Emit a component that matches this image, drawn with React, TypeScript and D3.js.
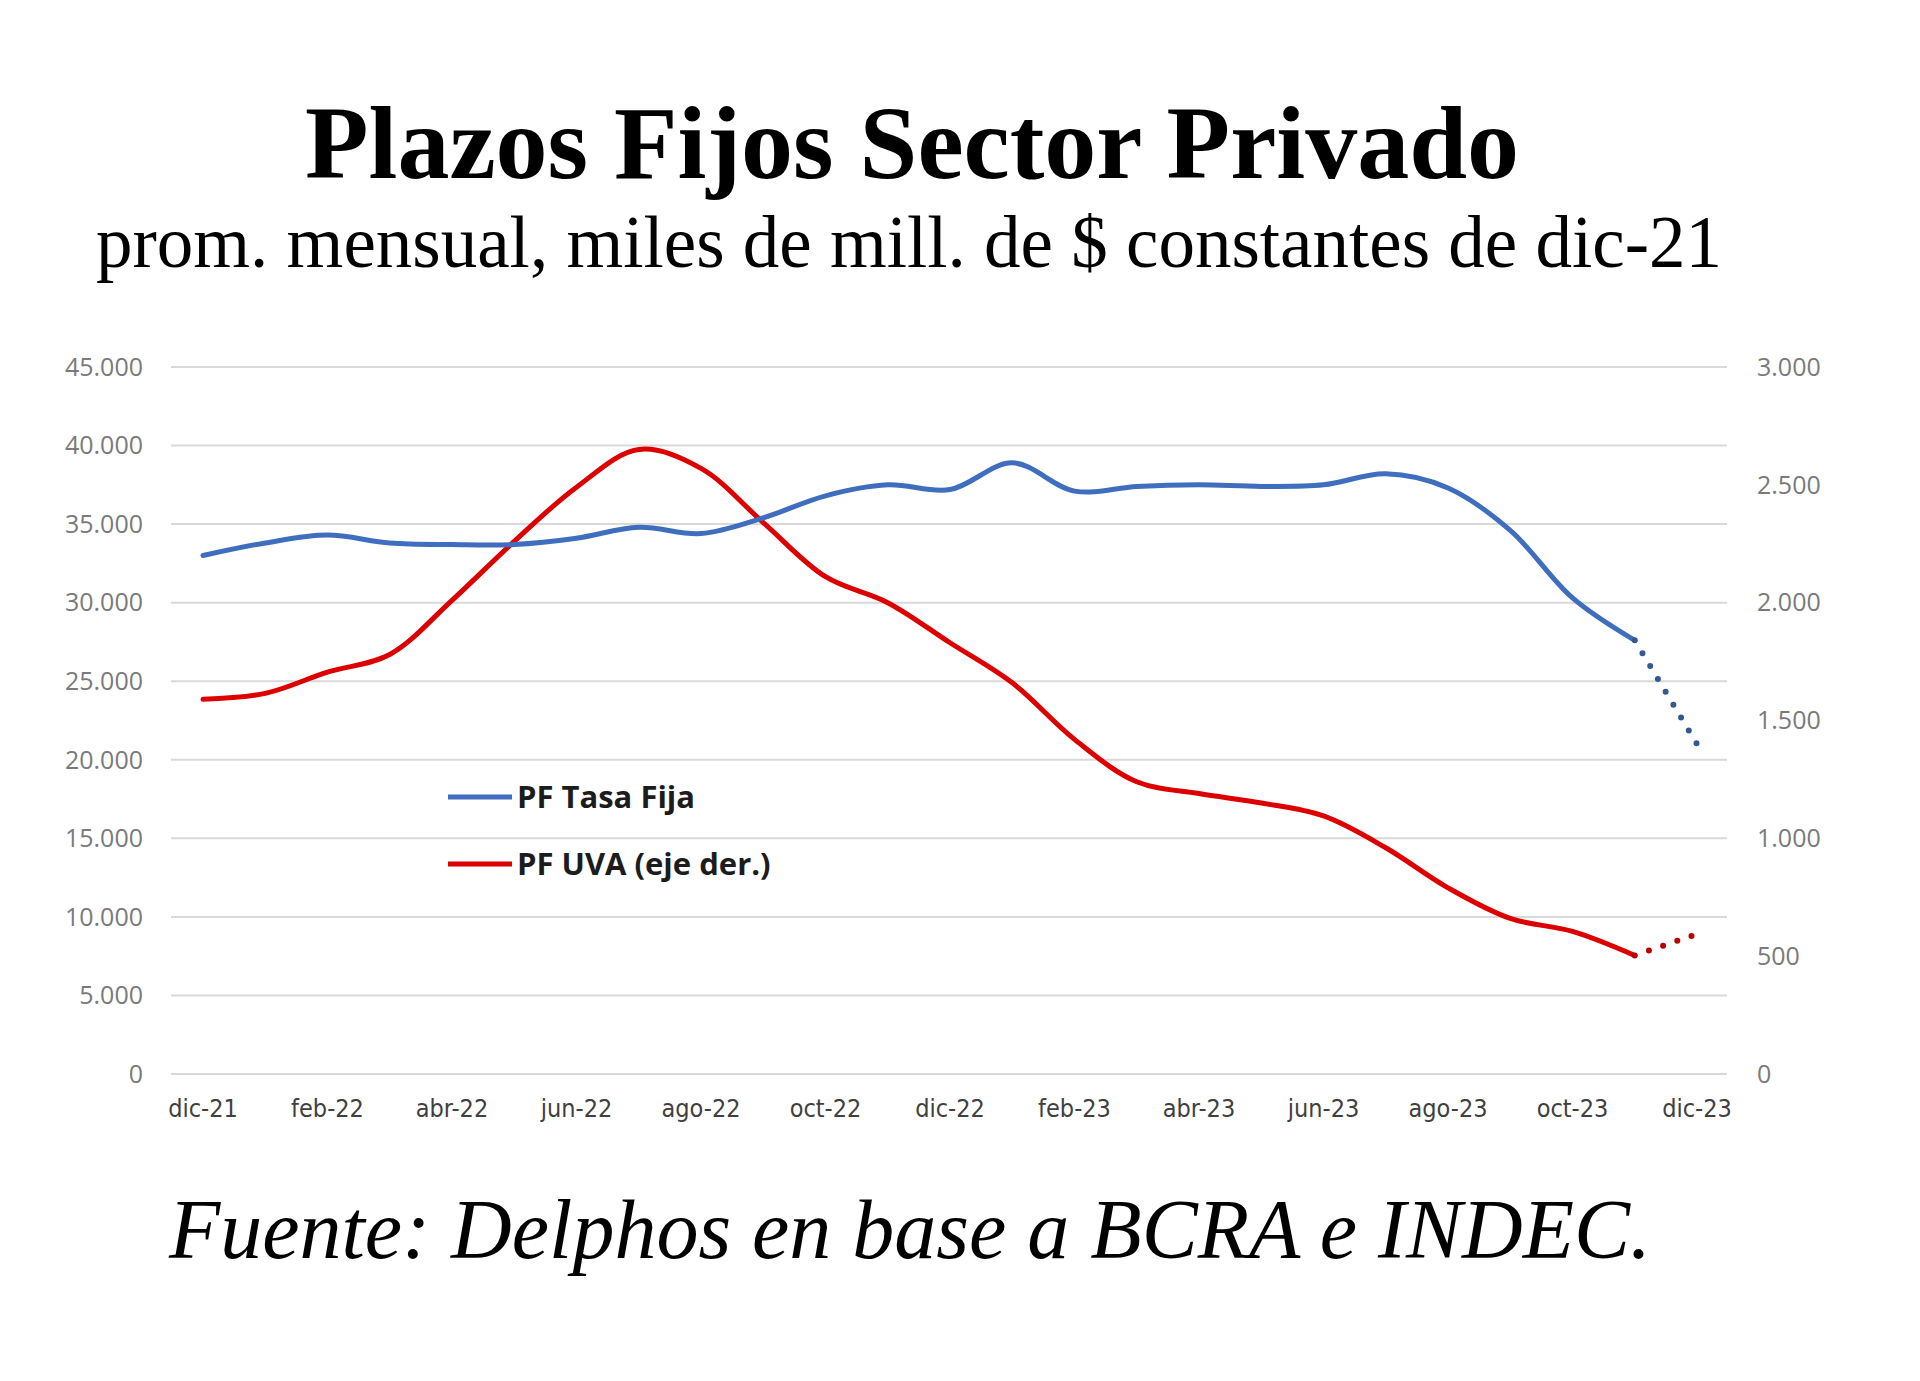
import React from "react";
import * as d3 from "d3";

const months = [
  "dic-21","ene-22","feb-22","mar-22","abr-22","may-22","jun-22","jul-22","ago-22","sep-22","oct-22","nov-22",
  "dic-22","ene-23","feb-23","mar-23","abr-23","may-23","jun-23","jul-23","ago-23","sep-23","oct-23","nov-23","dic-23",
];
const tasaFija = [33000, 33800, 34300, 33800, 33700, 33700, 34100, 34800, 34400, 35400, 36800, 37500, 37200, 38900, 37100, 37400, 37500, 37400, 37500, 38200, 37300, 34600, 30300, 27600, 21000];
const uva = [1590, 1615, 1705, 1780, 2010, 2260, 2490, 2650, 2570, 2340, 2110, 2000, 1830, 1660, 1420, 1240, 1190, 1150, 1095, 960, 790, 660, 605, 503, 594];
const leftTicks = [0, 5000, 10000, 15000, 20000, 25000, 30000, 35000, 40000, 45000];
const rightTicks = [0, 500, 1000, 1500, 2000, 2500, 3000];
const xTickLabels = ["dic-21","feb-22","abr-22","jun-22","ago-22","oct-22","dic-22","feb-23","abr-23","jun-23","ago-23","oct-23","dic-23"];
const legendItems = ["PF Tasa Fija", "PF UVA (eje der.)"];

const BLUE = "#3f6ebf";
const RED = "#dc0000";

const fmt = (v: number) => {
  const s = String(v);
  return s.replace(/\B(?=(\d{3})+(?!\d))/g, ".");
};

export default function App() {
  const W = 1920, H = 1381;
  const x = d3.scaleLinear().domain([0, months.length - 1]).range([203, 1697]);
  const yL = d3.scaleLinear().domain([0, 45000]).range([1074, 367]);
  const yR = d3.scaleLinear().domain([0, 3000]).range([1074, 367]);
  const lastSolid = months.length - 2;

  const lineL = d3.line<number>().x((_, i) => x(i)).y((d) => yL(d)).curve(d3.curveCatmullRom.alpha(0.5));
  const lineR = d3.line<number>().x((_, i) => x(i)).y((d) => yR(d)).curve(d3.curveCatmullRom.alpha(0.5));
  const dotLine = d3.line<[number, number]>().x((d) => d[0]).y((d) => d[1]);

  const blueSolid = lineL(tasaFija.slice(0, lastSolid + 1)) || "";
  const redSolid = lineR(uva.slice(0, lastSolid + 1)) || "";
  const blueDot = dotLine([[x(lastSolid), yL(tasaFija[lastSolid])], [x(lastSolid + 1), yL(tasaFija[lastSolid + 1])]]) || "";
  const redDot = dotLine([[x(lastSolid), yR(uva[lastSolid])], [x(lastSolid + 1), yR(uva[lastSolid + 1])]]) || "";

  return (
    <svg width={W} height={H} style={{ position: "absolute", left: 0, top: 0, background: "#fff" }}>
      <rect width={W} height={H} fill="#fff" />
      <text x={912} y={178} textAnchor="middle" fontFamily="'Liberation Serif', 'Times New Roman', serif" fontWeight="bold" fontSize={104} fill="#000">
        Plazos Fijos Sector Privado
      </text>
      <text x={909} y={267} textAnchor="middle" fontFamily="'Liberation Serif', 'Times New Roman', serif" fontSize={73} fill="#000">
        prom. mensual, miles de mill. de $ constantes de dic-21
      </text>

      {leftTicks.map((t) => (
        <line key={"g" + t} x1={171} x2={1727} y1={yL(t)} y2={yL(t)} stroke="#d9d9d9" strokeWidth={2} />
      ))}
      {leftTicks.map((t) => (
        <text key={"l" + t} x={143} y={yL(t)} dy="0.35em" textAnchor="end" fontFamily="'Open Sans', sans-serif" fontSize={25} fill="#7a7a7a">
          {fmt(t)}
        </text>
      ))}
      {rightTicks.map((t) => (
        <text key={"r" + t} x={1757} y={yR(t)} dy="0.35em" textAnchor="start" fontFamily="'Open Sans', sans-serif" fontSize={25} fill="#7a7a7a">
          {fmt(t)}
        </text>
      ))}
      {xTickLabels.map((m) => (
        <text key={m} x={x(months.indexOf(m))} y={1117} textAnchor="middle" fontFamily="'Liberation Sans Narrow', 'DejaVu Sans Condensed', sans-serif" fontSize={25} fill="#404040">
          {m}
        </text>
      ))}

      <path d={redSolid} fill="none" stroke={RED} strokeWidth={5} strokeLinejoin="round" strokeLinecap="round" />
      <path d={redDot} fill="none" stroke="#b80000" strokeWidth={6} strokeLinecap="round" strokeDasharray="0 15" />
      <path d={blueSolid} fill="none" stroke={BLUE} strokeWidth={5} strokeLinejoin="round" strokeLinecap="round" />
      <path d={blueDot} fill="none" stroke="#34598f" strokeWidth={6} strokeLinecap="round" strokeDasharray="0 15" />

      {legendItems.map((label, i) => (
        <g key={label} transform={`translate(0, ${797 + i * 67})`}>
          <line x1={448} x2={512} y1={0} y2={0} stroke={i === 0 ? BLUE : RED} strokeWidth={5} />
          <text x={517} y={0} dy="0.36em" fontFamily="'Open Sans', sans-serif" fontWeight="bold" fontSize={31} fill="#1c1c1c">
            {label}
          </text>
        </g>
      ))}

      <text x={910} y={1258} textAnchor="middle" fontFamily="'Liberation Serif', 'Times New Roman', serif" fontStyle="italic" fontSize={84} fill="#000">
        Fuente: Delphos en base a BCRA e INDEC.
      </text>
    </svg>
  );
}
